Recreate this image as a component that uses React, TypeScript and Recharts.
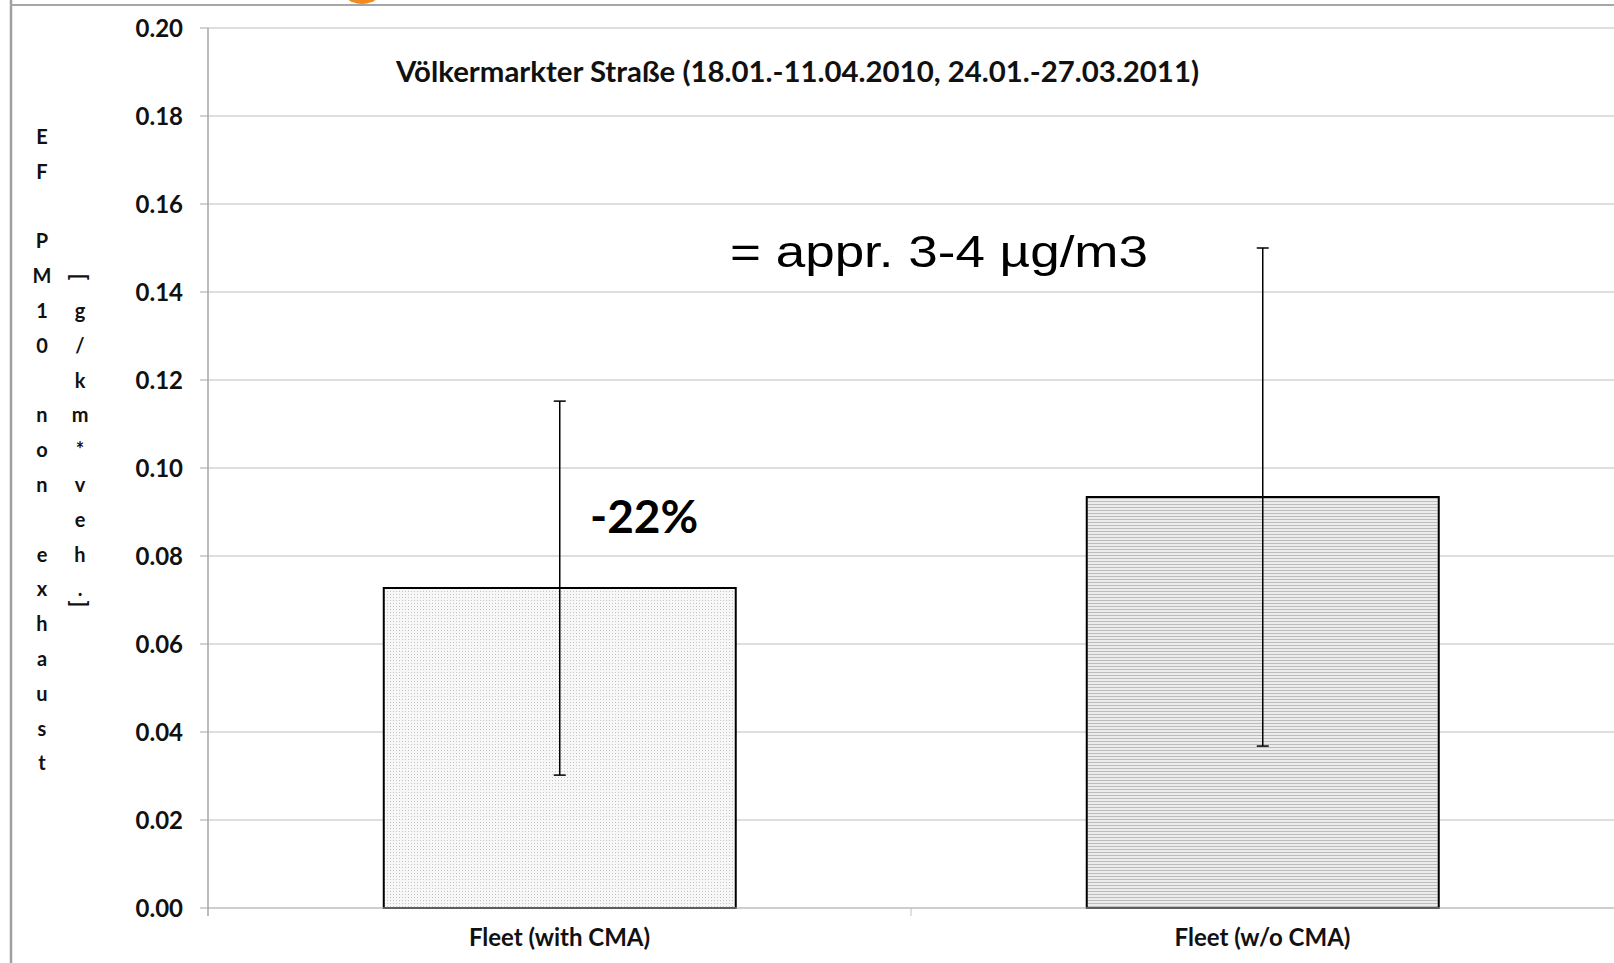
import React from 'react';
import {
  BarChart,
  Bar,
  XAxis,
  YAxis,
  CartesianGrid,
  ErrorBar,
  Cell,
} from 'recharts';

const categories = ['Fleet (with CMA)', 'Fleet (w/o CMA)'];
const meanValues = [0.0727, 0.0934];
const errorValues = [0.0425, 0.0566];
const yTicks = [0, 0.02, 0.04, 0.06, 0.08, 0.1, 0.12, 0.14, 0.16, 0.18, 0.2];
const barFills = ['url(#dotFill)', 'url(#stripeFill)'];

const labelColumn1 = 'EF PM10 non exhaust';
const labelColumn2 = '[g/km*veh.]';

const W = 1614;
const H = 963;
const margin = { top: 28, right: 0, bottom: 0, left: 0 };
const yAxisWidth = 208;
const xAxisHeight = 55;

const data = categories.map((name, i) => ({
  name,
  value: meanValues[i],
  err: errorValues[i],
}));

const FONT = 'Lato, "Open Sans", sans-serif';

const CategoryTick = (props: any) => {
  const { x, y, payload } = props;
  return (
    <text
      x={x}
      y={y + 38}
      textAnchor="middle"
      fontFamily={FONT}
      fontWeight={700}
      fontSize={24}
      fill="#111"
    >
      {payload.value}
    </text>
  );
};

const Overlay = () => {
  const plotLeft = margin.left + yAxisWidth;
  const plotRight = W - margin.right;
  const plotBottom = H - margin.bottom - xAxisHeight;
  const midX = plotLeft + (plotRight - plotLeft) / 2;

  // stacked vertical axis label, one glyph per line
  const lineH = 34.8;
  const firstY = 144;
  const col1 = labelColumn1.split('');
  const col2 = labelColumn2.split('');

  return (
    <svg
      width={W}
      height={H}
      style={{ position: 'absolute', left: 0, top: 0, pointerEvents: 'none' }}
    >
      {/* slide frame */}
      <line x1={11} y1={0} x2={11} y2={H} stroke="#a0a0a0" strokeWidth={2.5} />
      <line x1={10} y1={5} x2={W} y2={5} stroke="#a6a6a6" strokeWidth={2} />
      <circle cx={362} cy={-21} r={25} fill="#f28a1e" />

      {/* category boundary ticks */}
      <line x1={plotLeft} y1={plotBottom} x2={plotLeft} y2={plotBottom + 8} stroke="#a6a6a6" strokeWidth={1.5} />
      <line x1={midX} y1={plotBottom} x2={midX} y2={plotBottom + 8} stroke="#bfbfbf" strokeWidth={1} />

      {/* y label */}
      {col1.map((ch, i) =>
        ch === ' ' ? null : (
          <text
            key={`c1-${i}`}
            x={42}
            y={firstY + i * lineH}
            textAnchor="middle"
            fontFamily={FONT}
            fontWeight={700}
            fontSize={20}
            fill="#111"
          >
            {ch}
          </text>
        )
      )}
      {col2.map((ch, i) => {
        if (ch === '[' || ch === ']') {
          const cy = ch === '[' ? 277 : 604;
          return (
            <text
              key={`c2-${i}`}
              x={80}
              y={cy}
              textAnchor="middle"
              dominantBaseline="central"
              fontFamily={FONT}
              fontWeight={700}
              fontSize={22}
              fill="#111"
              transform={`rotate(90 80 ${cy})`}
            >
              {ch}
            </text>
          );
        }
        return (
          <text
            key={`c2-${i}`}
            x={80}
            y={firstY + (i + 4) * lineH}
            textAnchor="middle"
            fontFamily={FONT}
            fontWeight={700}
            fontSize={20}
            fill="#111"
          >
            {ch}
          </text>
        );
      })}

      {/* annotations */}
      <text
        x={396}
        y={82}
        fontFamily={FONT}
        fontWeight={700}
        fontSize={28}
        fill="#111"
        textLength={803}
        lengthAdjust="spacingAndGlyphs"
      >
        Völkermarkter Straße (18.01.-11.04.2010, 24.01.-27.03.2011)
      </text>
      <text
        x={730}
        y={267}
        fontFamily='"Liberation Sans", Arial, sans-serif'
        fontSize={45}
        fill="#000"
        textLength={418}
        lengthAdjust="spacingAndGlyphs"
      >
        = appr. 3-4 µg/m3
      </text>
      <text x={590} y={533} fontFamily={FONT} fontWeight={700} fontSize={46} fill="#000">
        -22%
      </text>
    </svg>
  );
};

export default function App() {
  return (
    <div style={{ position: 'absolute', left: 0, top: 0, width: W, height: H, background: '#fff', overflow: 'hidden' }}>
      <svg width={0} height={0} style={{ position: 'absolute' }}>
        <defs>
          <pattern id="dotFill" width={3} height={3} patternUnits="userSpaceOnUse">
            <rect width={3} height={3} fill="#f7f7f7" />
            <rect width={1} height={1} fill="#c4c4c4" />
          </pattern>
          <pattern id="stripeFill" width={3} height={3} patternUnits="userSpaceOnUse">
            <rect width={3} height={3} fill="#ececec" />
            <rect width={3} height={1} fill="#bdbdbd" />
          </pattern>
        </defs>
      </svg>
      <BarChart
        width={W}
        height={H}
        data={data}
        margin={margin}
        barCategoryGap="25%"
      >
        <CartesianGrid vertical={false} stroke="#bdbdbd" strokeWidth={1} />
        <XAxis
          dataKey="name"
          height={xAxisHeight}
          axisLine={{ stroke: '#bdbdbd', strokeWidth: 1 }}
          tickLine={false}
          tickSize={0}
          tickMargin={0}
          tick={<CategoryTick />}
          interval={0}
        />
        <YAxis
          width={yAxisWidth}
          domain={[0, 0.2]}
          ticks={yTicks}
          tickFormatter={(v: number) => v.toFixed(2)}
          axisLine={{ stroke: '#a6a6a6', strokeWidth: 1.5 }}
          tickLine={{ stroke: '#a6a6a6', strokeWidth: 1 }}
          tickSize={8}
          tickMargin={17}
          tick={{ fontFamily: FONT, fontWeight: 700, fontSize: 24, fill: '#111' }}
          interval={0}
        />
        <Bar
          dataKey="value"
          stroke="#000"
          strokeWidth={2}
          isAnimationActive={false}
        >
          {data.map((d, i) => (
            <Cell key={d.name} fill={barFills[i]} />
          ))}
          <ErrorBar
            dataKey="err"
            direction="y"
            width={6}
            stroke="#000"
            strokeWidth={1.5}
            isAnimationActive={false}
          />
        </Bar>
      </BarChart>
      <Overlay />
    </div>
  );
}
